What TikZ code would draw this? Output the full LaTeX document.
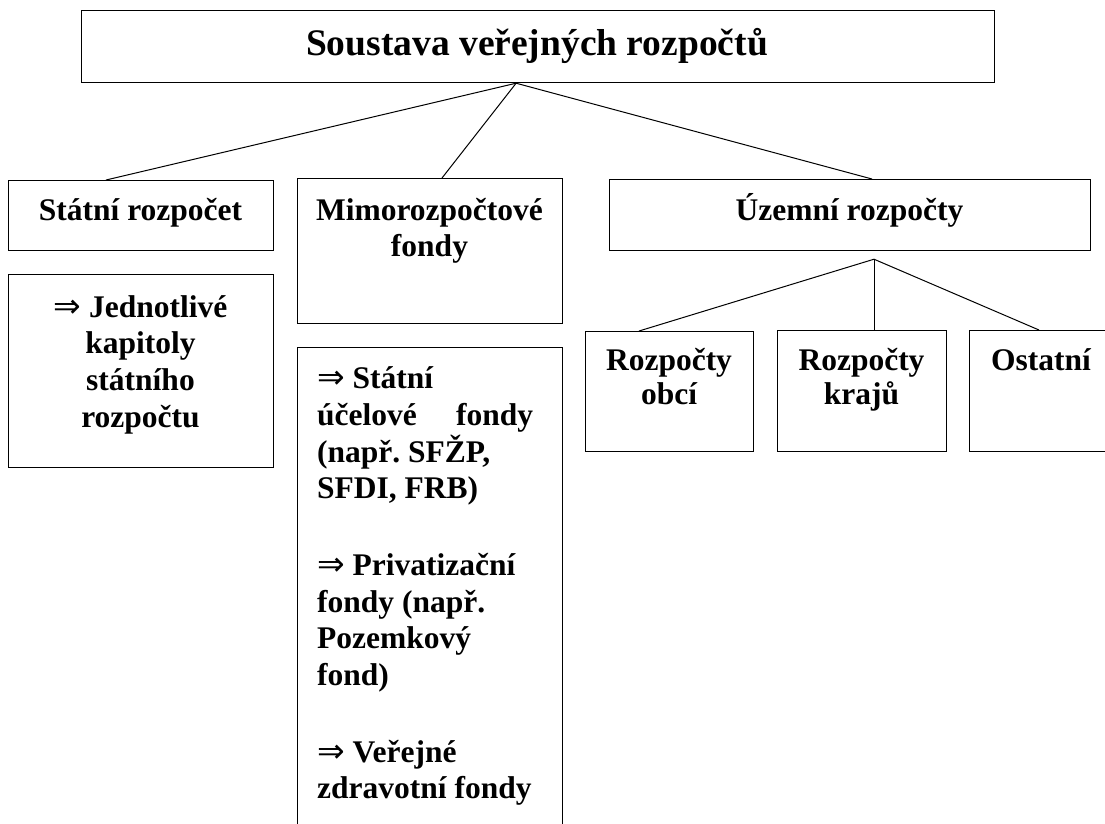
\documentclass[tikz,border=0pt]{standalone}
\usepackage{fontspec}
\setmainfont{Liberation Serif}
\newfontfamily\arrowfont{DejaVu Sans}
\newcommand{\bodyfont}{\fontsize{31.5}{37}\selectfont\bfseries\frenchspacing}
\newcommand{\titlefont}{\fontsize{37.5}{43}\selectfont\bfseries}
\newcommand{\arr}{{\arrowfont\mdseries\fontsize{33}{37}\selectfont ⇒}}
\begin{document}
\begin{tikzpicture}[x=1pt,y=-1pt,
  box/.style={draw, line width=1.2pt, inner sep=0pt, anchor=north west},
  conn/.style={line width=1pt},
  tc/.style={font=\bodyfont, anchor=base, inner sep=0pt},
  tl/.style={font=\bodyfont, anchor=base west, inner sep=0pt}]
\useasboundingbox (0,0) rectangle (1105,823);
\clip (0,0) rectangle (1105,823);
\fill[white] (0,0) rectangle (1105,823);

% boxes
\node[box, minimum width=913pt, minimum height=72pt] (top) at (81,10) {};
\node[box, minimum width=265pt, minimum height=70pt] (sr) at (8,180) {};
\node[box, minimum width=265pt, minimum height=193pt] (jk) at (8,274) {};
\node[box, minimum width=265pt, minimum height=145pt] (mf) at (297,178) {};
\node[box, minimum width=265pt, minimum height=520pt] (mf2) at (297,347) {};
\node[box, minimum width=481pt, minimum height=71pt] (ur) at (609,179) {};
\node[box, minimum width=168pt, minimum height=120pt] (ob) at (585,331) {};
\node[box, minimum width=169pt, minimum height=121pt] (kr) at (777,330) {};
\node[box, minimum width=144pt, minimum height=121pt] (os) at (969,330) {};

% texts
\node[font=\titlefont, anchor=base, inner sep=0pt] (top-t) at (537,55) {Soustava veřejných rozpočtů};
\node[tc] (sr-t) at (140.5,220) {Státní rozpočet};
\node[tc] (jk-1) at (140.5,317) {\arr\ Jednotlivé};
\node[tc] (jk-2) at (140.5,353) {kapitoly};
\node[tc] (jk-3) at (140.5,390) {státního};
\node[tc] (jk-4) at (140.5,427) {rozpočtu};
\node[tc] (mf-1) at (429.5,220) {Mimorozpočtové};
\node[tc] (mf-2) at (429.5,256) {fondy};
\node[tl] (mf2-1) at (317,388) {\arr\ Státní};
\node[tl] (mf2-2) at (317,425) {\hbox to 216pt{účelové\hfill fondy}};
\node[tl] (mf2-3) at (317,462) {(např. SFŽP,};
\node[tl] (mf2-4) at (317,498) {SFDI, FRB)};
\node[tl] (mf2-5) at (317,575) {\arr\ Privatizační};
\node[tl] (mf2-6) at (317,612) {fondy (např.};
\node[tl] (mf2-7) at (317,648) {Pozemkový};
\node[tl] (mf2-8) at (317,685) {fond)};
\node[tl] (mf2-9) at (317,762) {\arr\ Veřejné};
\node[tl] (mf2-10) at (317,798) {zdravotní fondy};
\node[tc] (ur-t) at (849.5,220) {Územní rozpočty};
\node[tc] (ob-1) at (669,370) {Rozpočty};
\node[tc] (ob-2) at (669,404) {obcí};
\node[tc] (kr-1) at (861.5,370) {Rozpočty};
\node[tc] (kr-2) at (861.5,404) {krajů};
\node[tc] (os-t) at (1041,370) {Ostatní};

% connectors
\coordinate (v1) at ([xshift=-22pt]top.south);
\draw[conn] (v1) -- ([xshift=98pt]sr.north west);
\draw[conn] (v1) -- ([xshift=145pt]mf.north west);
\draw[conn] (v1) -- ([xshift=263pt]ur.north west);
\coordinate (v2) at ([xshift=265pt,yshift=-8pt]ur.south west);
\draw[conn] (v2) -- ([xshift=54pt]ob.north west);
\draw[conn] (v2) -- (v2 |- kr.north);
\draw[conn] (v2) -- ([xshift=70pt]os.north west);
\end{tikzpicture}
\end{document}
